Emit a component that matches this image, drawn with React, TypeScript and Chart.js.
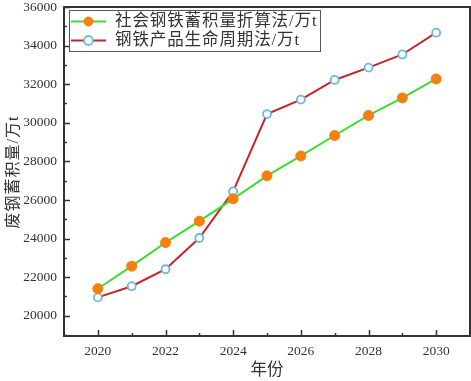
import React, { useEffect, useRef } from "react";
import { Chart, registerables } from "chart.js";

Chart.register(...registerables);

const years = [2020, 2021, 2022, 2023, 2024, 2025, 2026, 2027, 2028, 2029, 2030];
const stockMethod = [21400, 22570, 23790, 24900, 26060, 27250, 28280, 29340, 30380, 31290, 32270];
const lifecycleMethod = [20950, 21530, 22410, 24030, 26450, 30450, 31200, 32220, 32860, 33540, 34670];
const xTickLabels = [2020, 2022, 2024, 2026, 2028, 2030];
const xMinorTicks = [2021, 2023, 2025, 2027, 2029];
const yTickLabels = [20000, 22000, 24000, 26000, 28000, 30000, 32000, 34000, 36000];
const yMinorTicks = [19000, 21000, 23000, 25000, 27000, 29000, 31000, 33000, 35000];
const seriesNames = ["社会钢铁蓄积量折算法/万t", "钢铁产品生命周期法/万t"];
const xTitle = "年份";
const yTitle = "废钢蓄积量/万t";

const AXIS = "#333333";
const SERIF = "'Liberation Serif', 'Noto Sans CJK SC', serif";

const framePlugin = {
  id: "frameTicks",
  afterDraw(chart: any) {
    const { ctx, chartArea } = chart;
    const xs = chart.scales.x;
    const ys = chart.scales.y;
    ctx.save();
    ctx.strokeStyle = AXIS;
    ctx.lineWidth = 2;
    ctx.strokeRect(chartArea.left, chartArea.top, chartArea.right - chartArea.left, chartArea.bottom - chartArea.top);
    ctx.beginPath();
    xTickLabels.forEach((v) => {
      const px = Math.round(xs.getPixelForValue(v)) + 0.5;
      ctx.moveTo(px, chartArea.bottom);
      ctx.lineTo(px, chartArea.bottom - 6);
    });
    xMinorTicks.forEach((v) => {
      const px = Math.round(xs.getPixelForValue(v)) + 0.5;
      ctx.moveTo(px, chartArea.bottom);
      ctx.lineTo(px, chartArea.bottom - 3);
    });
    yTickLabels.forEach((v) => {
      const py = Math.round(ys.getPixelForValue(v)) + 0.5;
      ctx.moveTo(chartArea.left, py);
      ctx.lineTo(chartArea.left + 6, py);
    });
    yMinorTicks.forEach((v) => {
      const py = Math.round(ys.getPixelForValue(v)) + 0.5;
      ctx.moveTo(chartArea.left, py);
      ctx.lineTo(chartArea.left + 3, py);
    });
    ctx.lineWidth = 1.5;
    ctx.stroke();

    // y axis title
    ctx.save();
    ctx.translate(13.5, 172);
    ctx.rotate(-Math.PI / 2);
    ctx.fillStyle = "#333333";
    ctx.font = `16px ${SERIF}`;
    ctx.textAlign = "center";
    ctx.textBaseline = "middle";
    (ctx as any).letterSpacing = "1px";
    ctx.fillText(yTitle, 0, 0);
    ctx.restore();

    // legend
    const bx = 69, by = 10, bw = 251, bh = 41;
    ctx.fillStyle = "#ffffff";
    ctx.fillRect(bx, by, bw, bh);
    ctx.strokeStyle = "#555555";
    ctx.lineWidth = 1;
    ctx.strokeRect(bx + 0.5, by + 0.5, bw, bh);
    const rows = [21.5, 40.5];
    chart.data.datasets.forEach((ds: any, i: number) => {
      const y = rows[i];
      ctx.strokeStyle = ds.borderColor;
      ctx.lineWidth = 2;
      ctx.beginPath();
      ctx.moveTo(71, y);
      ctx.lineTo(106, y);
      ctx.stroke();
      ctx.beginPath();
      ctx.arc(88.5, y, 4.5, 0, Math.PI * 2);
      ctx.fillStyle = ds.pointBackgroundColor;
      ctx.fill();
      ctx.strokeStyle = ds.pointBorderColor;
      ctx.lineWidth = ds.pointBorderWidth;
      ctx.stroke();
      ctx.fillStyle = "#333333";
      ctx.font = `16.5px ${SERIF}`;
      (ctx as any).letterSpacing = "0.9px";
      ctx.textBaseline = "middle";
      ctx.textAlign = "left";
      ctx.fillText(ds.label, 115, y + 0.5);
    });
    ctx.restore();
  },
};

export default function App() {
  const ref = useRef<HTMLCanvasElement>(null);
  useEffect(() => {
    document.body.style.margin = "0";
    const chart = new Chart(ref.current!, {
      type: "line",
      data: {
        datasets: [
          {
            label: seriesNames[0],
            data: years.map((x, i) => ({ x, y: stockMethod[i] })),
            borderColor: "#3edc2e",
            borderWidth: 2,
            pointRadius: 5,
            pointBackgroundColor: "#f57f0f",
            pointBorderColor: "#f57f0f",
            pointBorderWidth: 1,
          },
          {
            label: seriesNames[1],
            data: years.map((x, i) => ({ x, y: lifecycleMethod[i] })),
            borderColor: "#c8232b",
            borderWidth: 2,
            pointRadius: 4,
            pointBackgroundColor: "#ffffff",
            pointBorderColor: "#6cb8e0",
            pointBorderWidth: 1.8,
          },
        ],
      },
      options: {
        responsive: false,
        animation: false,
        layout: { autoPadding: false, padding: { left: 0, right: 1, top: 7, bottom: 0 } },
        plugins: { legend: { display: false }, tooltip: { enabled: false } },
        scales: {
          x: {
            type: "linear",
            min: 2019,
            max: 2031,
            afterBuildTicks: (s: any) => {
              s.ticks = xTickLabels.map((v) => ({ value: v }));
            },
            afterFit: (s: any) => {
              s.height = 45;
              s.paddingLeft = 0;
              s.paddingRight = 0;
            },
            grid: { display: false, drawTicks: false },
            border: { display: false },
            ticks: {
              padding: 7,
              color: "#333333",
              font: { family: SERIF, size: 13.5 },
              callback: (v: any) => String(v),
            },
            title: {
              display: true,
              text: xTitle,
              color: "#333333",
              font: { family: SERIF, size: 16.5 },
              padding: { top: 4, bottom: 0 },
            },
          },
          y: {
            type: "linear",
            min: 18950,
            max: 36000,
            afterBuildTicks: (s: any) => {
              s.ticks = yTickLabels.map((v) => ({ value: v }));
            },
            afterFit: (s: any) => {
              s.width = 64;
              s.paddingTop = 0;
              s.paddingBottom = 0;
            },
            grid: { display: false, drawTicks: false },
            border: { display: false },
            ticks: {
              padding: 7,
              color: "#333333",
              font: { family: SERIF, size: 13.5 },
              callback: (v: any) => String(v),
            },
          },
        },
      },
      plugins: [framePlugin],
    } as any);
    return () => chart.destroy();
  }, []);
  return (
    <div style={{ position: "fixed", left: 0, top: 0, width: 471, height: 381, background: "#fff" }}>
      <canvas ref={ref} width={471} height={381} />
    </div>
  );
}
